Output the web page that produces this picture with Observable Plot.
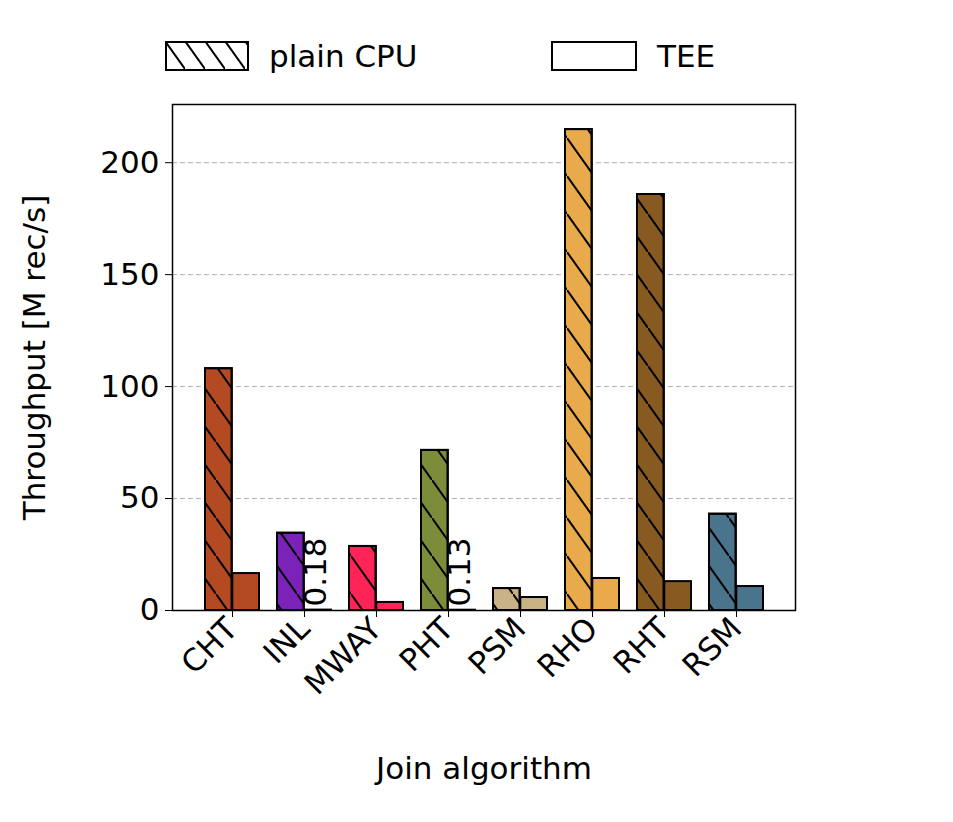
<!DOCTYPE html>
<html>
<head>
<meta charset="utf-8">
<script src="https://cdn.jsdelivr.net/npm/d3@7"></script>
<script src="https://cdn.jsdelivr.net/npm/@observablehq/plot@0.6"></script>
<style>
  body { margin: 0; background: #fff; font-family: "DejaVu Sans", sans-serif; }
  #legend { height: 100px; position: relative; font-size: 31px; }
  .item { position: absolute; top: 38px; display: flex; align-items: center; }
  .item span { margin-left: 20px; }
</style>
</head>
<body>
<div id="legend">
  <div class="item" style="left:165px">
    <svg width="84" height="30"><defs><pattern id="lhatch" patternUnits="userSpaceOnUse" width="20" height="28"><path d="M0,0 L20,28" stroke="#000" stroke-width="2"/></pattern></defs>
    <rect x="1" y="1" width="82" height="28" fill="url(#lhatch)" stroke="#000" stroke-width="2"/></svg>
    <span>plain CPU</span>
  </div>
  <div class="item" style="left:551px">
    <svg width="86" height="30"><rect x="1" y="1" width="84" height="28" fill="#fff" stroke="#000" stroke-width="2"/></svg>
    <span>TEE</span>
  </div>
</div>
<div id="chart"></div>
<script>
const algos = ["CHT", "INL", "MWAY", "PHT", "PSM", "RHO", "RHT", "RSM"];
const plainCPU = [108, 34.5, 28.6, 71.5, 9.8, 214.8, 185.8, 43];
const tee = [16.5, 0.18, 3.6, 0.13, 5.8, 14.3, 12.9, 10.7];
const colors = ["#b34a22", "#7b22b8", "#ff2457", "#7b8c3b", "#c9b283", "#e8aa4b", "#875a22", "#4a738c"];
const annotated = ["INL", "PHT"];
const yTicks = [0, 50, 100, 150, 200];

const data = algos.map((a, i) => ({algo: a, plain: plainCPU[i], tee: tee[i], color: colors[i]}));
const ann = data.filter(d => annotated.includes(d.algo));

const half = 27.3;
let chart = Plot.plot({
  width: 953,
  height: 722,
  marginLeft: 172,
  marginRight: 158,
  marginTop: 4,
  marginBottom: 212,
  style: {fontFamily: "DejaVu Sans, sans-serif", fontSize: "31px", background: "#fff", overflow: "visible"},
  x: {domain: algos, paddingInner: 0.25, paddingOuter: 0.4, label: null},
  y: {domain: [0, 226], label: null},
  marks: [
    Plot.gridY(yTicks.slice(1), {stroke: "#b0b0b0", strokeOpacity: 1, strokeDasharray: "5,3"}),
    Plot.barY(data, {x: "algo", y: "plain", fill: d => d.color, insetRight: half, stroke: "#000", strokeWidth: 2}),
    Plot.barY(data, {x: "algo", y: "plain", fill: "url(#hatch)", insetRight: half, stroke: "#000", strokeWidth: 2}),
    Plot.barY(data, {x: "algo", y: "tee", fill: d => d.color, insetLeft: half, stroke: "#000", strokeWidth: 2}),
    Plot.text(ann, {x: "algo", y: 0, text: d => String(d.tee), rotate: -90, dx: 12, dy: -4, textAnchor: "start", fontSize: 31, fill: "#000"}),
    Plot.frame({stroke: "#000", strokeWidth: 1.5}),
    Plot.axisY({ticks: yTicks, tickSize: 7, tickPadding: 6, fontSize: 31,
      label: "Throughput [M rec/s]", labelAnchor: "center", labelArrow: "none", labelOffset: 150}),
    Plot.axisX({tickSize: 7, tickRotate: -45, fontSize: 31, label: null, tickPadding: 6}),
    Plot.text(["Join algorithm"], {frameAnchor: "bottom", dy: 168, fontSize: 31, fill: "#000"})
  ]
});

d3.select(chart).insert("defs", ":first-child").html(
  '<pattern id="hatch" patternUnits="userSpaceOnUse" width="27" height="38"><path d="M0,0 L27,38" stroke="#000" stroke-width="2"/></pattern>'
);
d3.select('#chart').append(() => chart);
</script>
</body>
</html>
